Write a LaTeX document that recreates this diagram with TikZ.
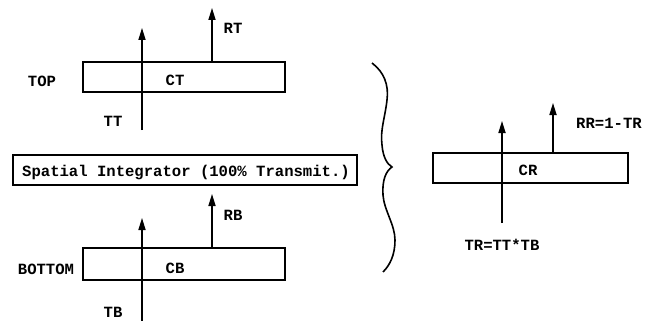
\documentclass[tikz,border=0pt]{standalone}
\usepackage{fontspec}
\setmonofont{Liberation Mono}
\usetikzlibrary{arrows.meta}

\begin{document}
\begin{tikzpicture}[x=1pt,y=-1pt,
every node/.style={font=\ttfamily\bfseries\fontsize{15.6}{17}\selectfont,inner sep=0pt},
cell/.style={draw,line width=2pt,minimum width=202pt,minimum height=30pt},
ray/.style={-{Triangle[length=13pt,width=6.5pt]},line width=2.8pt}]
\useasboundingbox (0,0) rectangle (648,321);
% top layer
\node[cell] (ct) at (184,77) {};
\node (ctl) at (175,80) {CT};
\node (top) at (42,81) {TOP};
\coordinate (tt0) at (142,130); \coordinate (tt1) at (142,27);
\coordinate (rt1) at (212,7);
\draw[ray] (tt0)--(tt1);
\draw[ray] (rt1 |- ct.north)--(rt1);
\node (tt) at (113,121) {TT};
\node (rt) at (233,28) {RT};
% integrator
\node[cell,minimum width=344pt] (si) at (185,170) {};
\node (sil) at (186,172) {Spatial Integrator (100\% Transmit.)};
% bottom layer
\node[cell,minimum height=32pt] (cb) at (184,264) {};
\node (cbl) at (175,268) {CB};
\node (bottom) at (46,269) {BOTTOM};
\coordinate (tb0) at (142,321); \coordinate (tb1) at (142,217);
\coordinate (rb1) at (212,193);
\draw[ray] (tb0)--(tb1);
\draw[ray] (rb1 |- cb.north)--(rb1);
\node (tb) at (113,312) {TB};
\node (rb) at (233,215) {RB};
% brace
\draw[line width=1.6pt] (372,63) .. controls (384,72) and (389,85) .. (387,100)
  .. controls (385,118) and (380,130) .. (382,145) .. controls (383,157) and (387,164) .. (392,167)
  .. controls (386,171) and (382,180) .. (383,195) .. controls (384,210) and (395,225) .. (395,240)
  .. controls (395,255) and (390,265) .. (383,272);
% combined layer
\node[cell,minimum width=195pt] (cr) at (530.5,168) {};
\node (crl) at (528,170) {CR};
\coordinate (tr0) at (502,223); \coordinate (tr1) at (502,120);
\coordinate (rr1) at (553,102);
\draw[ray] (tr0)--(tr1);
\draw[ray] (rr1 |- cr.north)--(rr1);
\node (rr) at (609,123) {RR=1-TR};
\node (tr) at (502,245) {TR=TT*TB};
\end{tikzpicture}
\end{document}
